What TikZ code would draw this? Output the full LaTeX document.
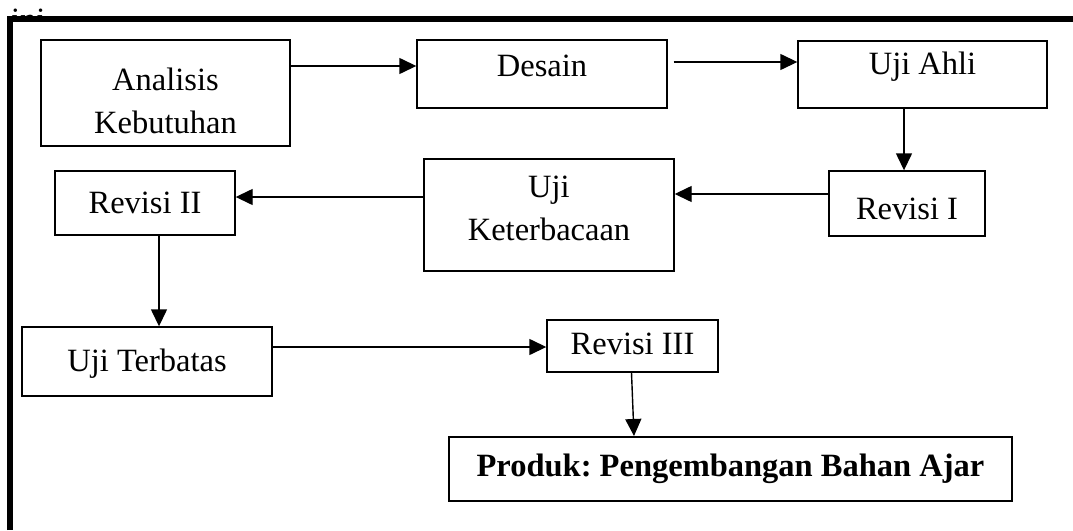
\documentclass[tikz,border=0pt]{standalone}
\usepackage{fontspec}
\setmainfont{Liberation Serif}
\frenchspacing
\usetikzlibrary{arrows.meta}
\newcommand{\nudge}[2]{\raisebox{#1}[\height][\depth]{#2}}
\tikzset{
  stage/.style 2 args={draw, line width=1.4pt, inner sep=0pt, align=center,
    minimum width=#1, minimum height=#2, font=\fontsize{32.5}{43}\selectfont},
  flow/.style={line width=1.4pt, -{Triangle[length=17pt, width=16pt]}}
}

\begin{document}
\begin{tikzpicture}[x=1pt, y=-1pt]
\useasboundingbox (0,0) rectangle (1073,530);
\node[anchor=base west, inner sep=0pt, font=\fontsize{32.5}{43}\selectfont] (ini) at (11,30) {ini};
\fill[white] (7,16) rectangle (1073,530);
\draw[line width=6.5pt] (10,530) |- (1073,19);

\node[stage={249pt}{106pt}] (anal) at (165.5,93) {\nudge{-8pt}{Analisis}\\\nudge{-8pt}{Kebutuhan}};
\node[stage={250pt}{68pt}] (desain) at (542,74) {\nudge{8pt}{Desain}};
\node[stage={249pt}{67pt}] (ahli) at (922.5,74.5) {\nudge{8pt}{Uji Ahli}};
\node[stage={156pt}{65pt}] (rev1) at (907,203.5) {\nudge{-5pt}{Revisi I}};
\node[stage={250pt}{112pt}] (ket) at (549,215) {\nudge{7pt}{Uji}\\\nudge{7pt}{Keterbacaan}};
\node[stage={180pt}{64pt}] (rev2) at (145,203) {Revisi II};
\node[stage={250pt}{69pt}] (terb) at (147,361.5) {\nudge{-2pt}{Uji Terbatas}};
\node[stage={171pt}{52pt}] (rev3) at (632.5,346) {\nudge{2pt}{Revisi III}};
\node[stage={563pt}{64pt}, line width=2pt, font=\fontsize{32.5}{43}\selectfont\bfseries] (produk) at (730.5,469) {Produk: Pengembangan Bahan Ajar};

\coordinate (a1) at (0,66);
\coordinate (a2) at (0,62);
\coordinate (a3) at (904,0);
\coordinate (a4) at (0,194);
\coordinate (a5) at (0,197);
\coordinate (a6) at (159,0);
\coordinate (a7) at (0,347);
\draw[flow] (anal.east |- a1) -- (desain.west |- a1);
\draw[flow, shorten <=6pt] (desain.east |- a2) -- (ahli.west |- a2);
\draw[flow] (ahli.south -| a3) -- (rev1.north -| a3);
\draw[flow] (rev1.west |- a4) -- (ket.east |- a4);
\draw[flow] (ket.west |- a5) -- (rev2.east |- a5);
\draw[flow] (rev2.south -| a6) -- (terb.north -| a6);
\draw[flow] (terb.east |- a7) -- (rev3.west |- a7);
\draw[flow] ([xshift=-1pt]rev3.south) -- ([xshift=1.5pt]rev3.south |- produk.north);
\end{tikzpicture}
\end{document}
